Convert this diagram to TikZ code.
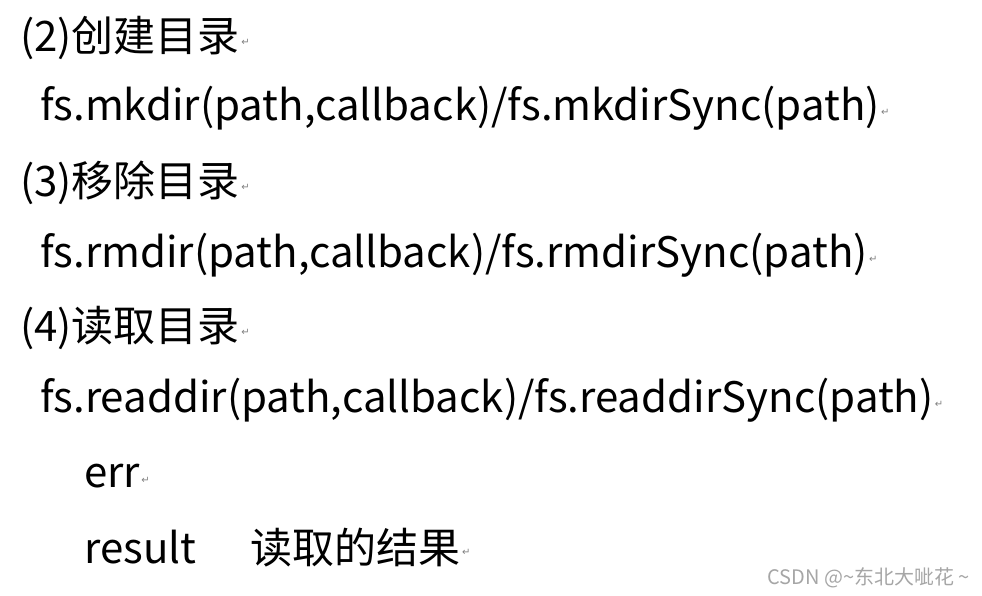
\documentclass[tikz,border=0pt]{standalone}
\usepackage{fontspec}
\setmainfont{Noto Sans CJK SC}
\newfontfamily\markfont{DejaVu Sans}
\usetikzlibrary{positioning}
\tikzset{line/.style={anchor=west, inner sep=0pt, font=\fontsize{42}{48}\selectfont},
         ret/.style={anchor=west, inner sep=1pt, text=gray, font=\markfont\fontsize{10}{11}\selectfont}}
\begin{document}
\begin{tikzpicture}[x=1pt, y=-1pt]
\useasboundingbox (0,0) rectangle (982,596);
% heading and command lines
\node[line] (h2) at (20,38)  {(2)创建目录};
\node[line] (c2) at (40,108) {fs.mkdir(path,callback)/fs.mkdirSync(path)};
\node[line] (h3) at (20,183) {(3)移除目录};
\node[line] (c3) at (40,255) {fs.rmdir(path,callback)/fs.rmdirSync(path)};
\node[line] (h4) at (20,328) {(4)读取目录};
\node[line] (c4) at (40,400) {fs.readdir(path,callback)/fs.readdirSync(path)};
\node[line] (er) at (84,476) {err};
\node[line] (rs) at (84,548) {result\hspace{1.3em}读取的结果};
% return marks
\foreach \n in {h2,c2,h3,c3,h4,c4,er,rs}
  \node[ret] at ([yshift=-4pt]\n.east) {↵};
% watermark
\node[anchor=east, inner sep=0pt, text=gray!70, font=\fontsize{20}{22}\selectfont] (wm) at (970,578) {CSDN @\textasciitilde 东北大呲花 \textasciitilde};
\end{tikzpicture}
\end{document}
